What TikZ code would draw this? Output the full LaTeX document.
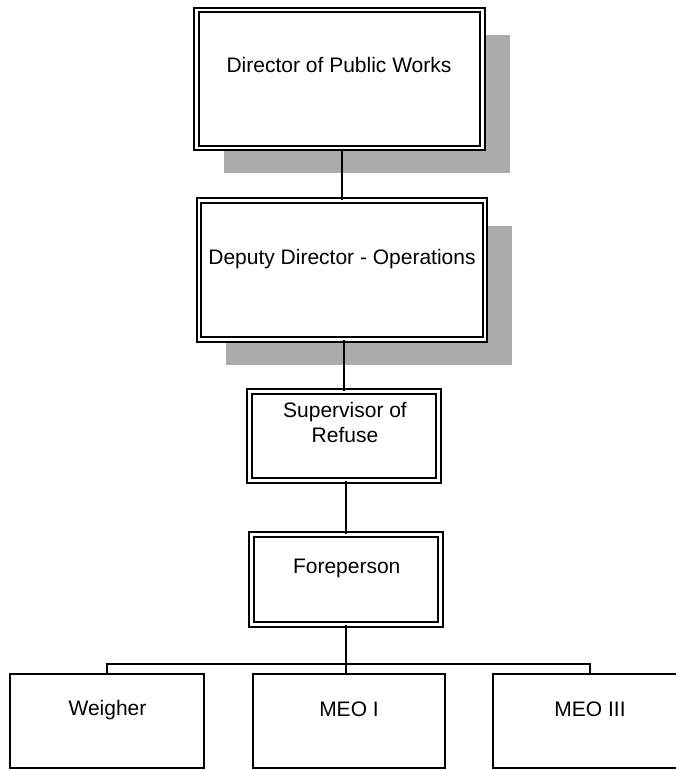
\documentclass[tikz,border=0pt]{standalone}
\usepackage{fontspec}
\setmainfont{Liberation Sans}
\usetikzlibrary{shadows,calc}
\begin{document}
\begin{tikzpicture}[x=1pt,y=-1pt,
  every node/.style={font=\fontsize{21}{25}\selectfont},
  dbox/.style={draw, fill=white, double, double distance=2.8pt, line width=1.7pt, inner sep=0pt, rectangle},
  sbox/.style={draw, fill=white, line width=1.4pt, inner sep=0pt, rectangle},
  shade/.style={drop shadow={shadow xshift=27pt, shadow yshift=-25pt, opacity=1, fill=black!33}},
  lbl/.style={anchor=base, inner sep=0pt},
  conn/.style={line width=1.8pt}]
  % page area
  \clip (0,0) rectangle (676,770);
  \fill[white] (0,0) rectangle (676,770);

  % boxes
  \node[dbox, shade, minimum width=286pt, minimum height=138pt] (dir) at (339.5,79) {};
  \node[dbox, shade, minimum width=286pt, minimum height=139pt] (dep) at (342,270) {};
  \node[dbox, minimum width=189pt, minimum height=89pt] (sup) at (344,436) {};
  \node[dbox, minimum width=189pt, minimum height=90pt] (fore) at (346,579.5) {};
  \node[sbox, minimum width=194pt, minimum height=94pt] (wei) at (107,721) {};
  \node[sbox, minimum width=192pt, minimum height=94pt] (meo1) at (349,721) {};
  \node[sbox, minimum width=194pt, minimum height=94pt] (meo3) at (590,721) {};

  % titles
  \node[lbl] (tdir) at (339,72.7) {Director of Public Works};
  \node[lbl] (tdep) at (342,264.5) {Deputy Director - Operations};
  \node[lbl] (tsup) at (345,417.7) {\begin{tabular}[t]{@{}c@{}}Supervisor of\\Refuse\end{tabular}};
  \node[lbl] (tfore) at (346.7,573.3) {Foreperson};
  \node[lbl] (twei) at (107.5,715.5) {Weigher};
  \node[lbl] (tmeo1) at (349,716) {MEO I};
  \node[lbl] (tmeo3) at (590,716) {MEO III};

  % reporting lines
  \draw[conn] (dep.north |- dir.south) -- (dep.north);
  \draw[conn] (sup.north |- dep.south) -- (sup.north);
  \draw[conn] (fore.north |- sup.south) -- (fore.north);
  \coordinate (bus) at (346,664);
  \draw[conn] (fore.south) -- (fore.south |- meo1.north);
  \draw[conn] (wei.north) -- (wei.north |- bus) -- (meo3.north |- bus) -- (meo3.north);
\end{tikzpicture}
\end{document}
